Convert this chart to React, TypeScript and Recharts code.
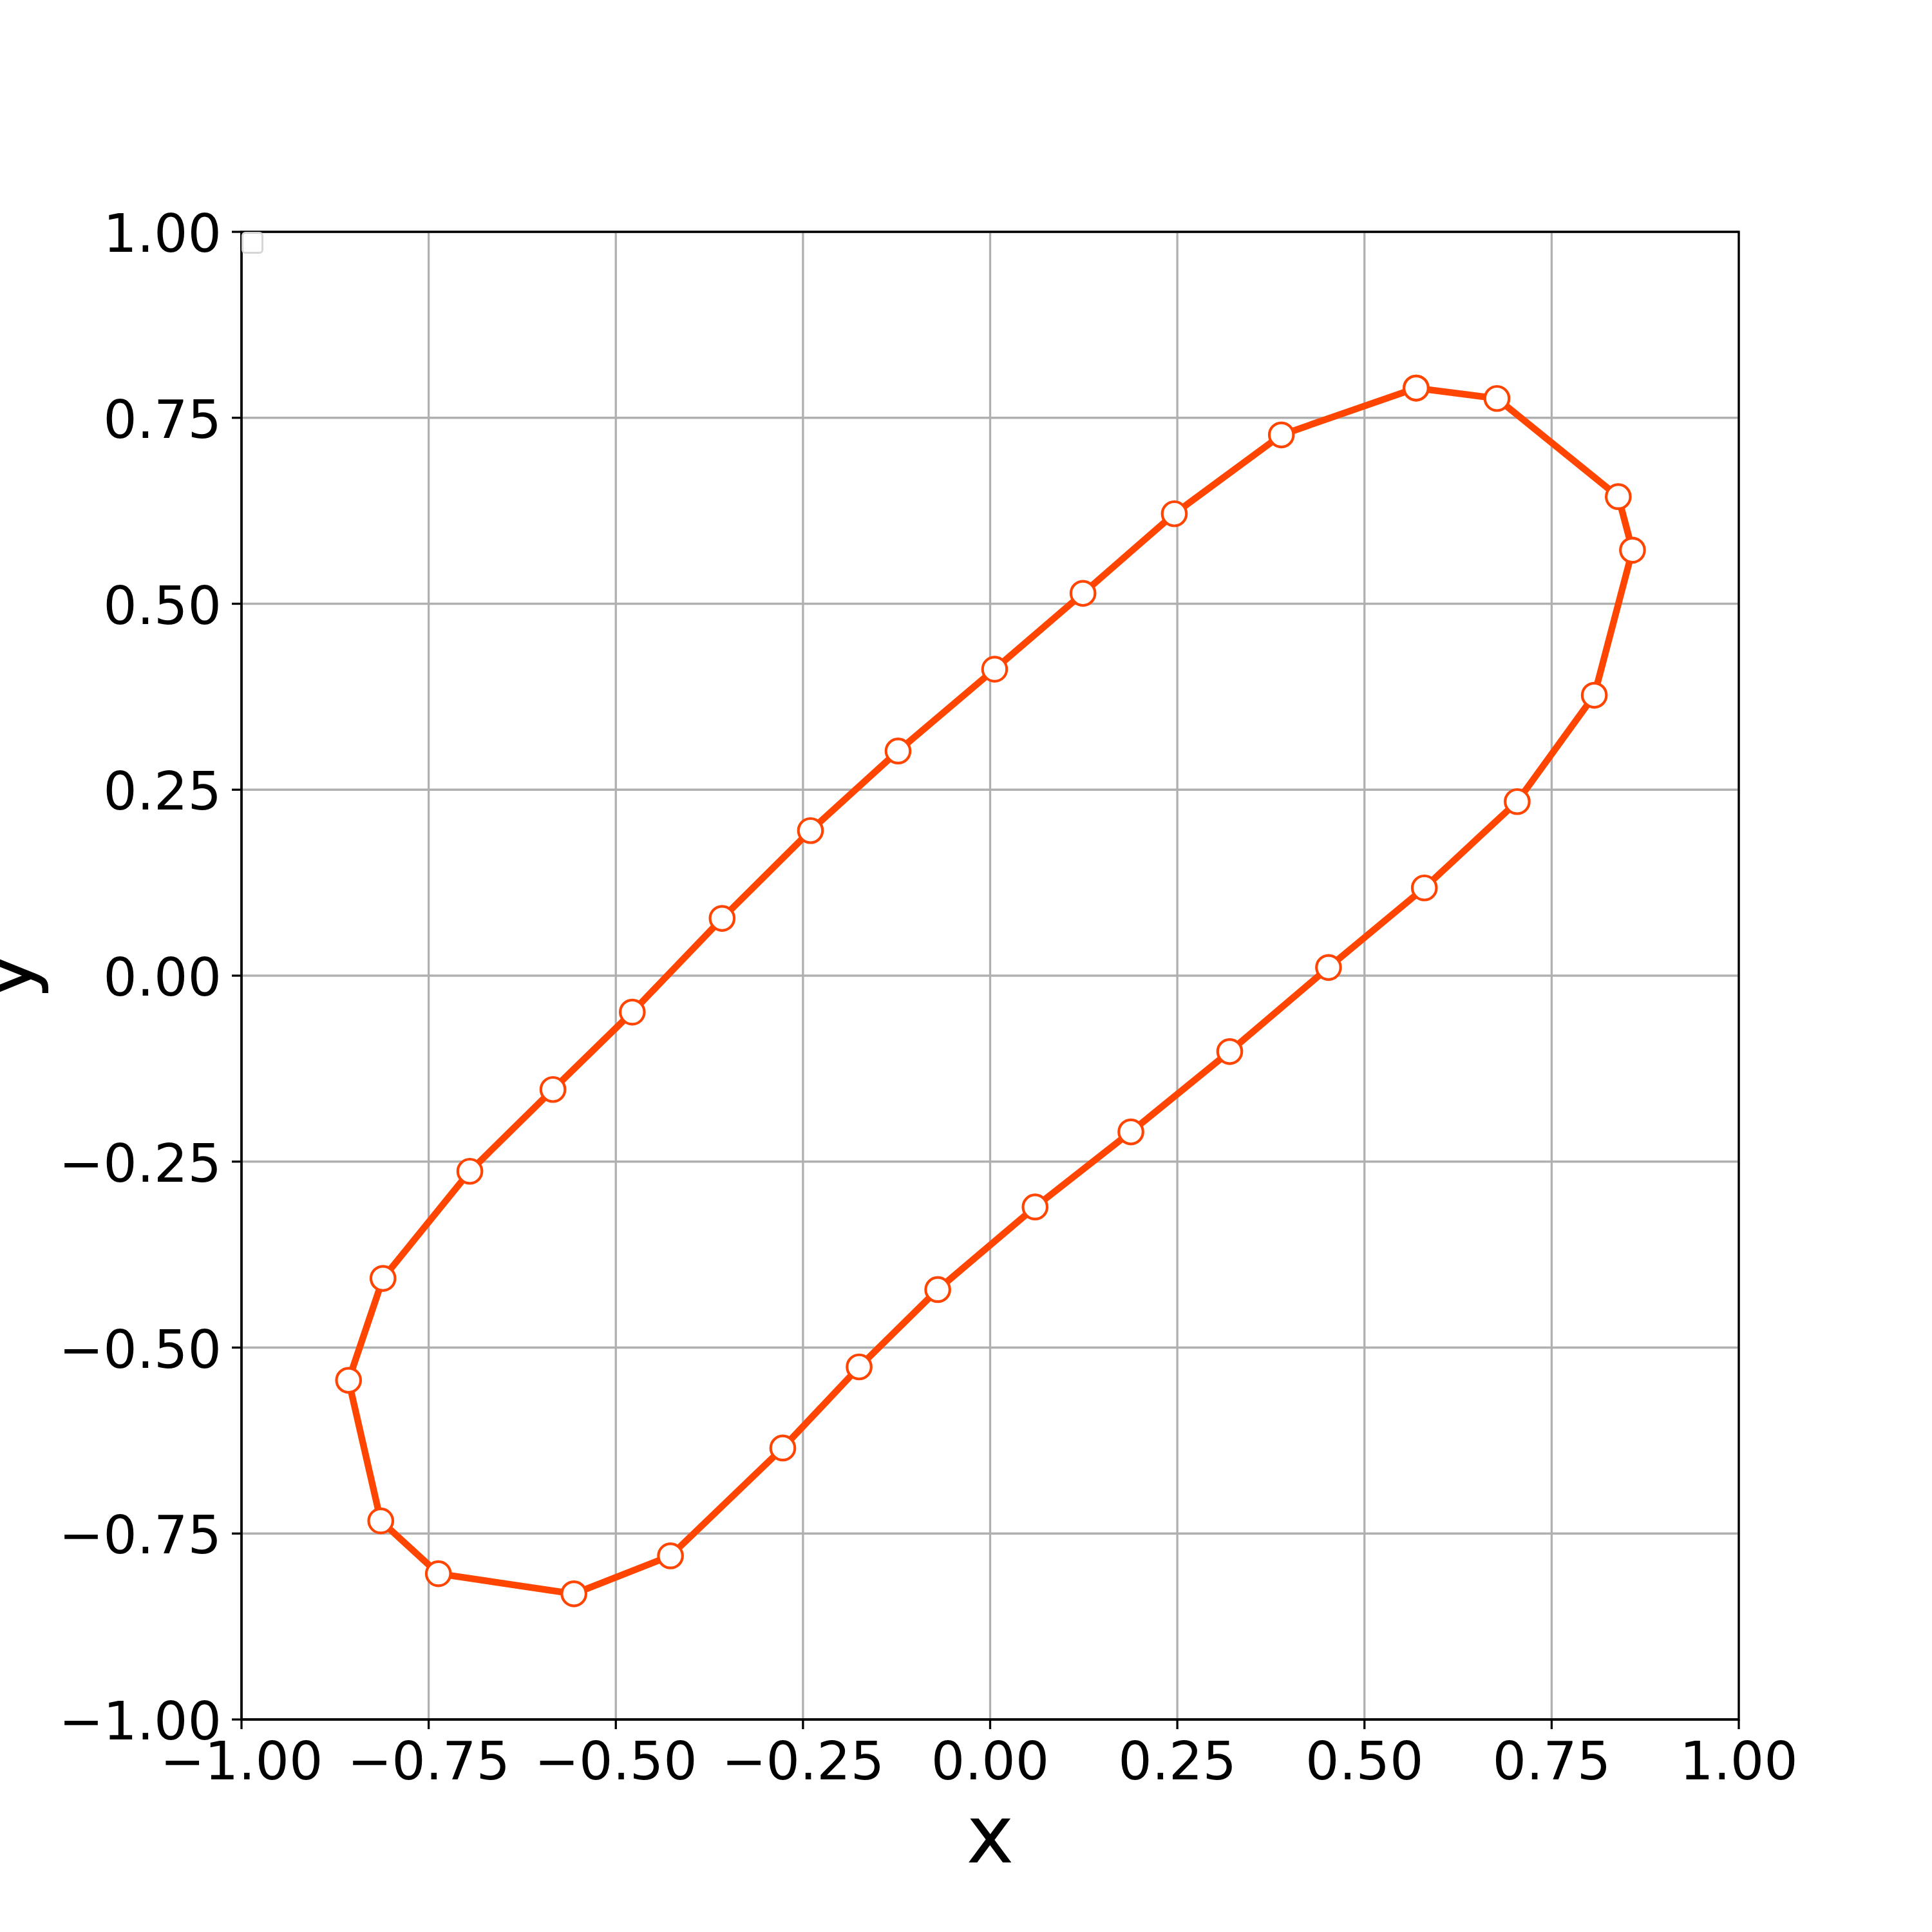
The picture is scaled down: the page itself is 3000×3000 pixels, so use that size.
import React from 'react';
import {
  ComposedChart,
  Line,
  XAxis,
  YAxis,
  CartesianGrid,
  ReferenceArea,
} from 'recharts';

// Loop points, in drawing order (the path is closed back to the first point)
const xValues = [
  0.569, 0.677, 0.839, 0.858, 0.807, 0.704, 0.58, 0.452, 0.32, 0.188,
  0.06, -0.07, -0.175, -0.277, -0.427, -0.556, -0.737, -0.814, -0.857, -0.811,
  -0.695, -0.584, -0.478, -0.358, -0.24, -0.123, 0.006, 0.124, 0.246, 0.389,
];
const yValues = [
  0.79, 0.776, 0.644, 0.572, 0.377, 0.234, 0.118, 0.011, -0.102, -0.21,
  -0.311, -0.422, -0.526, -0.635, -0.78, -0.831, -0.804, -0.733, -0.544, -0.407,
  -0.263, -0.153, -0.049, 0.077, 0.195, 0.302, 0.412, 0.514, 0.621, 0.727,
];
const tickValues = [-1, -0.75, -0.5, -0.25, 0, 0.25, 0.5, 0.75, 1];

const data = [...xValues, xValues[0]].map((x, i) => ({
  x,
  y: i < yValues.length ? yValues[i] : yValues[0],
}));

const fmt = (v: number) => v.toFixed(2).replace('-', '\u2212');
const FONT = "'DejaVu Sans', sans-serif";
const TICK_FS = 82.5;
const LABEL_FS = 125;
const COLOR = '#FF4500';

const XTick = (props: any) => {
  const { x, payload } = props;
  return (
    <text
      x={x}
      y={2670 + 93}
      textAnchor="middle"
      fontFamily={FONT}
      fontSize={TICK_FS}
      fill="#000"
    >
      {fmt(payload.value)}
    </text>
  );
};

const YTick = (props: any) => {
  const { y, payload } = props;
  return (
    <text
      x={344}
      y={y + 31}
      textAnchor="end"
      fontFamily={FONT}
      fontSize={TICK_FS}
      fill="#000"
    >
      {fmt(payload.value)}
    </text>
  );
};

export default function App() {
  return (
    <div
      style={{
        position: 'absolute',
        left: 0,
        top: 0,
        width: 3000,
        height: 3000,
        background: '#fff',
      }}
    >
      <ComposedChart
        width={3000}
        height={3000}
        data={data}
        margin={{ top: 360, right: 300, left: 0, bottom: 0 }}
      >
        <CartesianGrid
          stroke="#b0b0b0"
          strokeWidth={3.3}
          horizontalValues={tickValues}
          verticalValues={tickValues}
        />
        <XAxis
          type="number"
          dataKey="x"
          domain={[-1, 1]}
          ticks={tickValues}
          allowDataOverflow
          height={330}
          axisLine={{ stroke: '#000', strokeWidth: 3.3 }}
          tickLine={{ stroke: '#000', strokeWidth: 3.3 }}
          tickSize={15}
          tick={<XTick />}
          interval={0}
          label={() => (
            <text
              x={1537.5}
              y={2892}
              textAnchor="middle"
              fontFamily={FONT}
              fontSize={LABEL_FS}
              fill="#000"
            >
              x
            </text>
          )}
        />
        <YAxis
          type="number"
          dataKey="y"
          domain={[-1, 1]}
          ticks={tickValues}
          allowDataOverflow
          width={375}
          axisLine={{ stroke: '#000', strokeWidth: 3.3 }}
          tickLine={{ stroke: '#000', strokeWidth: 3.3 }}
          tickSize={15}
          tick={<YTick />}
          interval={0}
          label={() => (
            <text
              x={49}
              y={1515}
              transform="rotate(-90, 49, 1515)"
              textAnchor="middle"
              fontFamily={FONT}
              fontSize={LABEL_FS}
              fill="#000"
            >
              y
            </text>
          )}
        />
        <ReferenceArea
          x1={-1}
          x2={1}
          y1={-1}
          y2={1}
          fill="none"
          stroke="#000"
          strokeWidth={3.3}
          ifOverflow="visible"
        />
        <Line
          type="linear"
          dataKey="y"
          stroke={COLOR}
          strokeWidth={10.4}
          isAnimationActive={false}
          dot={{ r: 18.75, fill: '#fff', stroke: COLOR, strokeWidth: 4.17 }}
          activeDot={false}
        />
      </ComposedChart>
      <div
        style={{
          position: 'absolute',
          left: 375,
          top: 360,
          width: 28,
          height: 28,
          border: '3px solid #d6d6d6',
          borderRadius: 6,
          background: 'rgba(255,255,255,0.8)',
        }}
      />
    </div>
  );
}
